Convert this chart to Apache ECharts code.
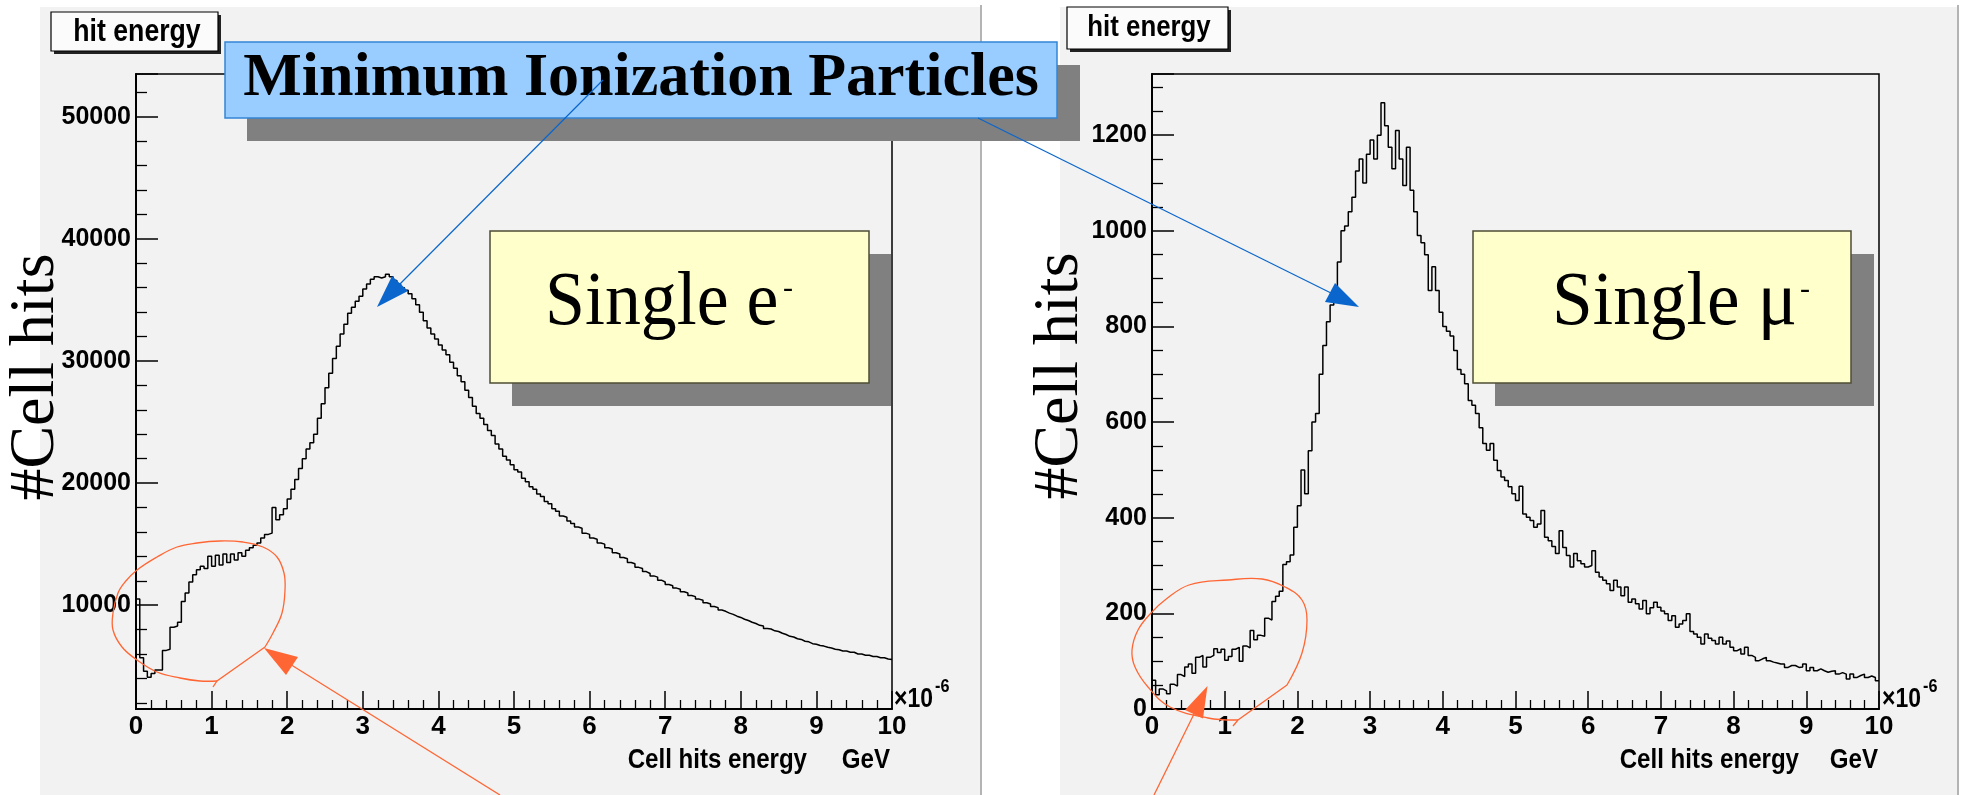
<!DOCTYPE html>
<html><head><meta charset="utf-8">
<script src="https://cdn.jsdelivr.net/npm/echarts@6/dist/echarts.min.js"></script>
<style>html,body{margin:0;padding:0;background:#fff;}#c{width:1971px;height:795px;}</style>
</head><body><div id="c"></div><script>
// ---- data (bin width 0.05 x 1e-6 GeV, 200 bins from 0 to 10) ----
const binWidth = 0.05;
const electronCounts = [
 10500,5700,4600,4100,4400,4700,4700,6300,6400,8200,
 8300,8600,10300,11000,11900,12500,12900,13200,13000,14000,
 13200,14100,13300,14200,13500,14200,13700,14300,14000,14500,
 14700,14900,15100,15500,15800,15900,18000,17000,17400,17900,
 18700,19500,20300,21200,22000,22800,23300,24000,25300,26500,
 27800,29000,30200,31200,32200,33000,33900,34400,34900,35300,
 35900,36300,36700,36900,36800,36900,37100,36900,36600,36300,
 36000,35800,35500,35100,34600,34000,33300,32700,32200,31800,
 31300,30900,30500,29900,29400,28800,28300,27600,27000,26300,
 25700,25300,24800,24300,23900,23200,22800,22200,21900,21500,
 21100,20900,20400,20100,19700,19500,19100,18900,18500,18300,
 17900,17700,17300,17200,16900,16700,16400,16300,15900,15800,
 15500,15400,15100,15000,14700,14600,14300,14200,13900,13800,
 13500,13400,13100,13000,12750,12600,12400,12300,12050,11900,
 11700,11600,11400,11300,11100,11000,10800,10700,10500,10400,
 10200,10100,9900,9800,9600,9500,9350,9250,9100,9000,
 8850,8750,8600,8500,8350,8300,8100,8050,7900,7850,
 7700,7600,7450,7400,7250,7200,7050,7000,6850,6800,
 6700,6650,6550,6500,6400,6350,6250,6250,6150,6150,
 6000,6000,5900,5900,5800,5800,5700,5700,5600,5550
];
const muonCounts = [
 60,30,42,38,32,52,48,72,68,88,
 94,75,108,112,88,108,112,126,118,125,
 102,110,125,129,100,132,128,164,145,154,
 152,190,186,225,236,246,302,308,322,380,
 425,500,450,540,600,618,700,760,810,845,
 880,935,1000,1010,1040,1070,1125,1150,1100,1160,
 1190,1150,1200,1268,1220,1175,1130,1210,1150,1095,
 1175,1085,1040,990,975,950,875,925,875,830,
 800,790,780,750,710,700,680,645,635,618,
 588,555,541,555,520,499,485,478,465,450,
 436,466,408,401,394,380,387,415,359,352,
 340,325,373,338,321,297,325,310,304,297,
 300,331,286,276,269,262,248,269,255,237,
 255,223,230,220,209,227,199,212,223,213,
 205,199,185,195,171,178,185,199,162,157,
 150,136,157,148,143,136,150,136,142,129,
 122,126,115,129,112,108,101,105,108,101,
 98,96,94,94,87,91,91,87,88,94,
 80,87,80,84,80,77,79,80,73,76,
 73,63,73,66,70,73,66,69,66,59
];
const xRange = [0, 10];
const yRangeElectron = [1500, 53500];
const yRangeMuon = [0, 1328];
const panelLabels = ['Single e', 'Single \u03bc'];
const yTitle = '#Cell hits';
const xTitle = 'Cell hits energy';
const xUnit = 'GeV';
const headerText = 'Minimum Ionization Particles';
const histTitle = 'hit energy';

function histData(counts) {
  const d = [[0, 0]];
  counts.forEach((c, i) => d.push([+(i * binWidth).toFixed(2), c]));
  d.push([xRange[1], counts[counts.length - 1]]);
  return d;
}

const SANS = '"Liberation Sans", Arial, sans-serif';
const SERIF = '"Liberation Serif", "Times New Roman", serif';

function xAxisCfg(g) {
  return {
    type: 'value', gridIndex: g, min: xRange[0], max: xRange[1], interval: 1,
    axisLine: {show: true, onZero: false, lineStyle: {color: '#000', width: 2}},
    axisTick: {show: true, inside: true, length: 18, lineStyle: {color: '#000', width: 1.5}},
    minorTick: {show: true, splitNumber: 5, length: 9, lineStyle: {color: '#000', width: 1.3}},
    splitLine: {show: false}, minorSplitLine: {show: false},
    axisLabel: {margin: 5, color: '#000', fontFamily: SANS, fontWeight: 'bold', fontSize: 26}
  };
}
function yAxisCfg(g, range, extra, minorSplit) {
  return Object.assign({
    type: 'value', gridIndex: g, min: range[0], max: range[1],
    axisLine: {show: true, onZero: false, lineStyle: {color: '#000', width: 2}},
    axisTick: {show: true, inside: true, length: 22, lineStyle: {color: '#000', width: 1.5}},
    minorTick: {show: true, splitNumber: minorSplit, length: 11, lineStyle: {color: '#000', width: 1.3}},
    splitLine: {show: false}, minorSplitLine: {show: false},
    axisLabel: {margin: 5, color: '#000', fontFamily: SANS, fontWeight: 'bold', fontSize: 25,
      showMinLabel: g === 1, showMaxLabel: false, formatter: v => String(v)}
  }, extra);
}

function txt(x, y, text, font, align, vAlign, extra) {
  return Object.assign({type: 'text', x: x, y: y, z: 60, silent: true,
    style: {text: text, x: 0, y: 0, font: font, fill: '#000', align: align, textAlign: align,
      verticalAlign: vAlign, textVerticalAlign: vAlign}}, extra || {});
}
function rect(x, y, w, h, fill, stroke, lw, z) {
  return {type: 'rect', z: z, silent: true, shape: {x: x, y: y, width: w, height: h},
    style: {fill: fill, stroke: stroke || null, lineWidth: lw || 0}};
}
function poly(points, color, smooth, z) {
  return {type: 'polyline', z: z || 70, silent: true, shape: {points: points, smooth: smooth || 0},
    style: {stroke: color, lineWidth: 1.3, fill: null}};
}
function tri(points, color) {
  return {type: 'polygon', z: 71, silent: true, shape: {points: points}, style: {fill: color}};
}
const ORANGE = '#ff6633', BLUE = '#0a66cc';

const graphics = [
  // pads
  rect(40, 7, 940, 788, '#f2f2f2', null, 0, -1),
  {type: 'line', z: -1, silent: true, shape: {x1: 981, y1: 5, x2: 981, y2: 795}, style: {stroke: '#b4b4b4', lineWidth: 2}},
  rect(1060, 7, 897, 788, '#f2f2f2', null, 0, -1),
  {type: 'line', z: -1, silent: true, shape: {x1: 1958, y1: 5, x2: 1958, y2: 795}, style: {stroke: '#b4b4b4', lineWidth: 2}},
  // hist title boxes
  rect(54, 15, 167, 39, '#222', null, 0, 40),
  rect(51, 12, 167, 39, '#fbfbfb', '#000', 1.2, 41),
  txt(137, 32, histTitle, 'bold 31px ' + SANS, 'center', 'middle', {scaleX: 0.86}),
  rect(1070, 10, 161, 42, '#222', null, 0, 40),
  rect(1067, 7, 161, 42, '#fbfbfb', '#000', 1.2, 41),
  txt(1149, 28, histTitle, 'bold 30px ' + SANS, 'center', 'middle', {scaleX: 0.86}),
  // y titles
  txt(36, 377, yTitle, '64px ' + SERIF, 'center', 'middle', {rotation: Math.PI / 2}),
  txt(1060, 376, yTitle, '64px ' + SERIF, 'center', 'middle', {rotation: Math.PI / 2}),
  // x titles
  txt(807, 760, xTitle, 'bold 28px ' + SANS, 'right', 'middle', {scaleX: 0.86}),
  txt(890, 760, xUnit, 'bold 28px ' + SANS, 'right', 'middle', {scaleX: 0.86}),
  txt(1799, 760, xTitle, 'bold 28px ' + SANS, 'right', 'middle', {scaleX: 0.86}),
  txt(1878, 760, xUnit, 'bold 28px ' + SANS, 'right', 'middle', {scaleX: 0.86}),
  // exponent labels
  txt(894, 700, '\u00d710', 'bold 27px ' + SANS, 'left', 'middle', {scaleX: 0.85}),
  txt(935, 687, '-6', 'bold 18px ' + SANS, 'left', 'middle', {scaleX: 0.9}),
  txt(1882, 700, '\u00d710', 'bold 27px ' + SANS, 'left', 'middle', {scaleX: 0.85}),
  txt(1923, 687, '-6', 'bold 18px ' + SANS, 'left', 'middle', {scaleX: 0.9}),
  // yellow boxes
  rect(512, 254, 379, 152, '#808080', null, 0, 50),
  rect(490, 231, 379, 152, '#ffffcc', '#4d4d33', 1.5, 51),
  txt(545, 304, panelLabels[0], '76px ' + SERIF, 'left', 'middle', {scaleX: 0.945}),
  txt(788, 289, '-', '30px ' + SERIF, 'center', 'middle'),
  rect(1495, 254, 379, 152, '#808080', null, 0, 50),
  rect(1473, 231, 378, 152, '#ffffcc', '#4d4d33', 1.5, 51),
  txt(1552, 304, panelLabels[1], '76px ' + SERIF, 'left', 'middle', {scaleX: 0.965}),
  txt(1805, 290, '-', '30px ' + SERIF, 'center', 'middle'),
  // header box
  rect(247, 65, 833, 76, '#808080', null, 0, 52),
  rect(225, 42, 832, 76, '#99ccff', '#3385d6', 1.5, 53),
  txt(641, 79, headerText, 'bold 62px ' + SERIF, 'center', 'middle', {z: 54}),
  // blue arrows
  {type: 'line', z: 70, silent: true, shape: {x1: 603, y1: 80, x2: 386, y2: 298}, style: {stroke: BLUE, lineWidth: 1.2}},
  tri([[377, 307], [392, 276], [408, 291]], BLUE),
  {type: 'line', z: 70, silent: true, shape: {x1: 978, y1: 118, x2: 1335, y2: 295}, style: {stroke: BLUE, lineWidth: 1.2}},
  tri([[1359, 307], [1325, 302], [1335, 283]], BLUE),
  // orange annotations left
  poly([[265,647],[273,633],[282,613],[285,590],[284,573],[277,557],[263,547],[243,542],[220,541],[197,543],[177,547],[157,557],[137,570],[125,582],[118,593],[113,613],[113,630],[122,647],[137,660],[157,672],[180,678],[200,681],[217,681]], ORANGE, 0.4),
  poly([[213,687],[217,681],[265,647]], ORANGE, 0),
  {type: 'line', z: 70, silent: true, shape: {x1: 500, y1: 795, x2: 285, y2: 661}, style: {stroke: ORANGE, lineWidth: 1.3}},
  tri([[264, 648], [298, 657], [286, 675]], ORANGE),
  // orange annotations right
  poly([[1238,720],[1208,718],[1170,707],[1148,687],[1135,667],[1132,650],[1138,630],[1151,613],[1165,600],[1189,585],[1228,580],[1262,579],[1285,587],[1302,600],[1307,620],[1302,653],[1287,685]], ORANGE, 0.4),
  poly([[1287,685],[1238,720],[1233,726]], ORANGE, 0),
  {type: 'line', z: 70, silent: true, shape: {x1: 1154, y1: 795, x2: 1196, y2: 710}, style: {stroke: ORANGE, lineWidth: 1.3}},
  tri([[1207.5, 686], [1185, 710], [1203, 718.5]], ORANGE)
];

const chart = echarts.init(document.getElementById('c'), null, {renderer: 'canvas'});
chart.setOption({
  backgroundColor: '#ffffff',
  animation: false,
  grid: [
    {left: 136, top: 74, width: 756, height: 635, show: true, borderColor: '#000', borderWidth: 1.5, backgroundColor: 'transparent'},
    {left: 1152, top: 74, width: 727, height: 635, show: true, borderColor: '#000', borderWidth: 1.5, backgroundColor: 'transparent'}
  ],
  xAxis: [xAxisCfg(0), xAxisCfg(1)],
  yAxis: [
    yAxisCfg(0, yRangeElectron, {splitNumber: 5}, 5),
    yAxisCfg(1, yRangeMuon, {interval: 200}, 4)
  ],
  series: [
    {type: 'line', name: 'e-', xAxisIndex: 0, yAxisIndex: 0, step: 'end', symbol: 'none', clip: true,
     data: histData(electronCounts), lineStyle: {color: '#000', width: 1.5}},
    {type: 'line', name: 'mu-', xAxisIndex: 1, yAxisIndex: 1, step: 'end', symbol: 'none', clip: true,
     data: histData(muonCounts), lineStyle: {color: '#000', width: 1.5}}
  ],
  graphic: {elements: graphics}
});
</script></body></html>
